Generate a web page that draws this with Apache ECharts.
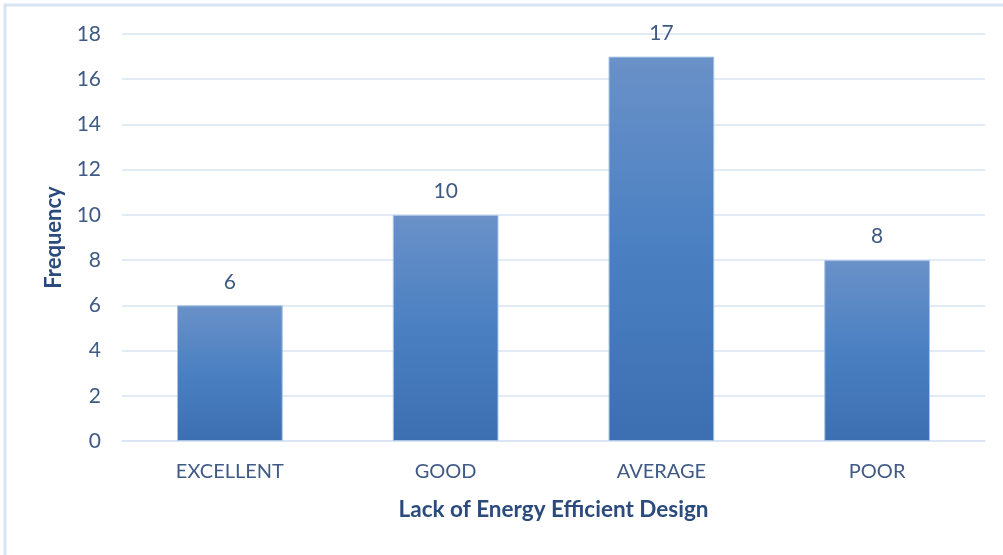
<!DOCTYPE html>
<html>
<head>
<meta charset="utf-8">
<script src="https://cdn.jsdelivr.net/npm/echarts@6/dist/echarts.min.js"></script>
<style>
  html, body { margin: 0; padding: 0; background: #fff; }
  #chart { width: 1003px; height: 555px; }
</style>
</head>
<body>
<div id="chart"></div>
<script>
var categories = ['EXCELLENT', 'GOOD', 'AVERAGE', 'POOR']
var frequency = [6, 10, 17, 8]
var xName = 'Lack of Energy Efficient Design'
var yName = 'Frequency'

var chart = echarts.init(document.getElementById('chart'))
var labelColor = '#3f5a85'
var titleColor = '#2a4b7c'

chart.setOption({
  animation: false,
  textStyle: { fontFamily: 'Lato' },
  graphic: [{
    type: 'rect',
    shape: { x: 5, y: 5, width: 1200, height: 700 },
    style: { fill: 'none', stroke: '#d9e4f3', lineWidth: 3 },
    silent: true
  }],
  grid: {
    left: 122,
    right: 18,
    top: 34,
    bottom: 114
  },
  xAxis: {
    type: 'category',
    data: categories,
    name: xName,
    nameLocation: 'middle',
    nameGap: 57,
    nameTextStyle: { color: titleColor, fontSize: 22.5, fontWeight: 'bold' },
    axisTick: { show: false },
    axisLine: { lineStyle: { color: '#d9e3f2', width: 1.5 } },
    axisLabel: { color: labelColor, fontSize: 20, margin: 21 }
  },
  yAxis: {
    type: 'value',
    min: 0,
    max: 18,
    interval: 2,
    name: yName,
    nameLocation: 'middle',
    nameGap: 57,
    nameTextStyle: { color: titleColor, fontSize: 22, fontWeight: 'bold' },
    axisLine: { show: false },
    axisTick: { show: false },
    axisLabel: { color: labelColor, fontSize: 21, margin: 21 },
    splitLine: { lineStyle: { color: '#d9e3f2', width: 1.5 } }
  },
  series: [{
    type: 'bar',
    data: frequency,
    barWidth: '49%',
    itemStyle: {
      color: new echarts.graphic.LinearGradient(0, 0, 0, 1, [
        { offset: 0, color: '#6a91c8' },
        { offset: 0.5, color: '#4a80c2' },
        { offset: 1, color: '#3c6fb1' }
      ]),
      borderColor: '#a9c3e6',
      borderWidth: 1
    },
    label: {
      show: true,
      position: 'top',
      distance: 13,
      color: labelColor,
      fontSize: 21
    }
  }]
})
</script>
</body>
</html>
